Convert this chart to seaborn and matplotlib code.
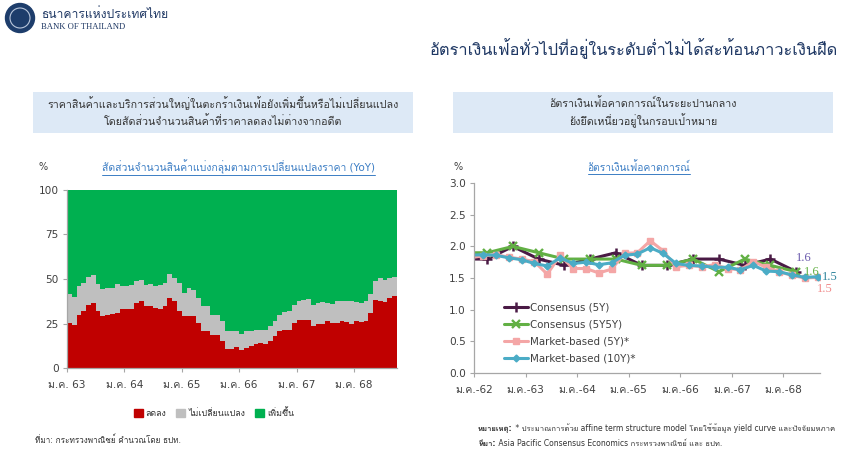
import numpy as np
import pandas as pd
import matplotlib
matplotlib.use("Agg")
import matplotlib.pyplot as plt
import matplotlib.patches as mpatches
from matplotlib.lines import Line2D
from matplotlib import font_manager as fm
from matplotlib.ft2font import FT2Font
import seaborn as sns

# ---- left chart: share of CPI items by price change (YoY), monthly Jan 2563 .. Sep 2568
price_month = list(range(69))
share_decrease = [
    25.2, 24.3, 29.5, 31.8, 35.5, 36.4, 32.0, 29.0, 30.0, 30.5, 31.0, 33.0,
    33.0, 33.0, 36.5, 37.4, 35.0, 35.0, 33.6, 33.0, 34.6, 39.3, 37.4, 32.3,
    29.3, 29.3, 29.0, 25.2, 21.0, 21.0, 18.7, 18.7, 15.0, 10.7, 10.7, 11.8,
    10.3, 11.2, 12.1, 13.5, 14.0, 13.5, 15.0, 17.8, 20.6, 21.1, 21.5, 25.2,
    27.1, 27.1, 26.7, 23.4, 24.9, 24.9, 26.2, 25.2, 25.2, 26.2, 25.6, 24.9,
    26.5, 25.6, 26.2, 30.8, 38.3, 37.9, 37.0, 39.3, 40.2,
]
share_unchanged = [
    16.5, 15.7, 16.3, 15.9, 15.5, 15.9, 15.3, 15.3, 14.9, 14.4, 16.0, 13.0,
    13.0, 13.7, 12.1, 12.1, 11.7, 12.3, 12.2, 13.7, 13.1, 13.6, 13.1, 15.4,
    13.1, 15.6, 14.6, 14.1, 14.0, 14.0, 11.3, 10.8, 11.2, 10.3, 10.3, 8.8,
    9.0, 9.4, 8.5, 7.6, 7.1, 7.6, 8.4, 8.4, 9.4, 10.1, 10.3, 10.3,
    10.8, 11.2, 12.0, 12.1, 11.5, 11.9, 10.2, 10.9, 12.2, 11.6, 11.8, 12.5,
    10.3, 10.8, 11.2, 10.7, 10.3, 12.6, 12.5, 11.2, 11.2,
]
share_increase = [
    58.3, 60.0, 54.2, 52.3, 49.0, 47.7, 52.7, 55.7, 55.1, 55.1, 53.0, 54.0,
    54.0, 53.3, 51.4, 50.5, 53.3, 52.7, 54.2, 53.3, 52.3, 47.1, 49.5, 52.3,
    57.6, 55.1, 56.4, 60.7, 65.0, 65.0, 70.0, 70.5, 73.8, 79.0, 79.0, 79.4,
    80.7, 79.4, 79.4, 78.9, 78.9, 78.9, 76.6, 73.8, 70.0, 68.8, 68.2, 64.5,
    62.1, 61.7, 61.3, 64.5, 63.6, 63.2, 63.6, 63.9, 62.6, 62.2, 62.6, 62.6,
    63.2, 63.6, 62.6, 58.5, 51.4, 49.5, 50.5, 49.5, 48.6,
]
price_groups = ["ลดลง", "ไม่เปลี่ยนแปลง", "เพิ่มขึ้น"]
price_ticks = [0, 12, 24, 36, 48, 60]
price_ticklabels = ["ม.ค. 63", "ม.ค. 64", "ม.ค. 65", "ม.ค. 66", "ม.ค. 67", "ม.ค. 68"]

# ---- right chart: inflation expectations, months counted from Jan 2562
consensus_month = [-3, 3, 9, 15, 21, 27, 33, 39, 45, 51, 57, 63, 69, 75]
consensus_5y = [1.8, 1.8, 2.0, 1.8, 1.7, 1.8, 1.9, 1.7, 1.7, 1.8, 1.8, 1.7, 1.8, 1.6]
consensus_5y5y = [1.9, 1.9, 2.0, 1.9, 1.8, 1.8, 1.8, 1.7, 1.7, 1.8, 1.6, 1.8, 1.7, 1.6]
market_month = [-1, 2, 5, 8, 11, 14, 17, 20, 23, 26, 29, 32, 35, 38,
                41, 44, 47, 50, 53, 56, 59, 62, 65, 68, 71, 74, 77, 80]
market_5y = [1.82, 1.85, 1.87, 1.83, 1.80, 1.76, 1.56, 1.86, 1.65, 1.65, 1.58, 1.64, 1.89, 1.90,
             2.09, 1.93, 1.68, 1.70, 1.68, 1.71, 1.65, 1.63, 1.76, 1.67, 1.60, 1.54, 1.50, 1.51]
market_10y = [1.86, 1.87, 1.86, 1.82, 1.79, 1.73, 1.69, 1.82, 1.73, 1.75, 1.71, 1.74, 1.86, 1.88,
              1.98, 1.89, 1.73, 1.70, 1.69, 1.67, 1.67, 1.63, 1.70, 1.61, 1.60, 1.55, 1.51, 1.52]
expect_ticks = [0, 12, 24, 36, 48, 60, 72]
expect_ticklabels = ["ม.ค.-62", "ม.ค.-63", "ม.ค.-64", "ม.ค.-65", "ม.ค.-66", "ม.ค.-67", "ม.ค.-68"]


def find_thai_font():
    for f in fm.fontManager.ttflist:
        try:
            if 0x0E01 in FT2Font(f.fname).get_charmap():
                return f.name
        except Exception:
            continue
    return None


sns.set_theme(style="white")
thai = find_thai_font()
plt.rcParams["font.family"] = ["DejaVu Sans"] + ([thai] if thai else [])

W, H = 860, 457
NAVY = "#1f3864"
TXT = "#404040"
AXIS = "#a6a6a6"
SERIF = ["Liberation Serif", "DejaVu Serif"]


def fx(px):
    return px / W


def fy(py):
    return 1 - py / H


fig = plt.figure(figsize=(W / 100, H / 100), dpi=100)
fig.patch.set_facecolor("white")

# logo + header
fig.add_artist(mpatches.Ellipse((fx(20), fy(18)), 29 / W, 29 / H, color="#1d3d6b"))
fig.add_artist(mpatches.Ellipse((fx(20), fy(18)), 20 / W, 20 / H, facecolor="none",
                                edgecolor="#b9c7dc", linewidth=0.8))
fig.text(fx(41), fy(14), "ธนาคารแห่งประเทศไทย", fontsize=8.7, color=NAVY, va="center")
fig.text(fx(41), fy(27), "BANK OF THAILAND", fontsize=6.2, color=NAVY, va="center",
         family=SERIF)
fig.text(fx(838), fy(49), "อัตราเงินเฟ้อทั่วไปที่อยู่ในระดับต่ำไม่ได้สะท้อนภาวะเงินฝืด",
         fontsize=11.8, color=NAVY, ha="right", va="center")

# section boxes
for x0, lines, cx in [
    (33, ["ราคาสินค้าและบริการส่วนใหญ่ในตะกร้าเงินเฟ้อยังเพิ่มขึ้นหรือไม่เปลี่ยนแปลง",
          "โดยสัดส่วนจำนวนสินค้าที่ราคาลดลงไม่ต่างจากอดีต"], 223),
    (453, ["อัตราเงินเฟ้อคาดการณ์ในระยะปานกลาง", "ยังยึดเหนี่ยวอยู่ในกรอบเป้าหมาย"], 643),
]:
    fig.add_artist(mpatches.Rectangle((fx(x0), fy(133)), 380 / W, 41 / H,
                                      facecolor="#dde9f6", edgecolor="none"))
    fig.text(fx(cx), fy(103), lines[0], fontsize=7.7, color="#333333", ha="center", va="center")
    fig.text(fx(cx), fy(121), lines[1], fontsize=7.7, color="#333333", ha="center", va="center")

# ---- left chart
price_df = pd.DataFrame({
    "month": price_month * 3,
    "share": share_decrease + share_unchanged + share_increase,
    "group": [price_groups[0]] * 69 + [price_groups[1]] * 69 + [price_groups[2]] * 69,
})
price_colors = {"ลดลง": "#c00000", "ไม่เปลี่ยนแปลง": "#bfbfbf", "เพิ่มขึ้น": "#00b050"}

ax1 = fig.add_axes([fx(67), fy(368), 330 / W, 178 / H])
sns.histplot(data=price_df, x="month", weights="share", hue="group",
             hue_order=price_groups[::-1], multiple="stack", binwidth=1, binrange=(0, 69),
             element="step", palette=price_colors, alpha=1, linewidth=0,
             legend=False, ax=ax1)
ax1.set_xlim(0, 69)
ax1.set_ylim(0, 100)
ax1.set_yticks([0, 25, 50, 75, 100])
ax1.set_xticks(price_ticks)
ax1.set_xticklabels(price_ticklabels)
ax1.set_xlabel("")
ax1.set_ylabel("")

# ---- right chart
ax2 = fig.add_axes([fx(474.3), fy(372.7), 345.5 / W, 189.4 / H])
series = [
    ("Consensus (5Y)", consensus_month, consensus_5y, "#4a1a45", "+", 7.5, 1.8, "#6a5aad", (8, 14)),
    ("Consensus (5Y5Y)", consensus_month, consensus_5y5y, "#62b044", "x", 5.5, 1.7, "#62b044", (16, 0)),
    ("Market-based (5Y)*", market_month, market_5y, "#f4a6a6", "s", 4, 1.0, "#f08a8a", (7, -12)),
    ("Market-based (10Y)*", market_month, market_10y, "#4bacc6", "D", 3.5, 1.0, "#31859c", (12, 0)),
]
for name, xs, ys, col, mk, ms, mew, lab_col, off in series:
    sns.lineplot(x=xs, y=ys, ax=ax2, color=col, marker=mk, markersize=ms,
                 markeredgewidth=mew, markeredgecolor=col, linewidth=2.2,
                 label=name, errorbar=None)
    ax2.annotate(f"{ys[-1]:.1f}", (xs[-1], ys[-1]), xytext=off, textcoords="offset pixels",
                 ha="center", va="center", fontsize=9, color=lab_col,
                 family=SERIF, annotation_clip=False)
ax2.set_xlim(0, 80.5)
ax2.set_ylim(0, 3.0)
ax2.set_yticks(np.arange(0, 3.01, 0.5))
ax2.set_yticklabels([f"{v:.1f}" for v in np.arange(0, 3.01, 0.5)])
ax2.set_xticks(expect_ticks)
ax2.set_xticklabels(expect_ticklabels)
leg = ax2.legend(loc="lower left", bbox_to_anchor=(0.075, 0.025), frameon=False, fontsize=7.4,
                 handlelength=2.3, labelspacing=0.68, handletextpad=0.15, borderaxespad=0)
for t in leg.get_texts():
    t.set_color(TXT)

for ax in (ax1, ax2):
    for s in ("top", "right"):
        ax.spines[s].set_visible(False)
    for s in ("left", "bottom"):
        ax.spines[s].set_color(AXIS)
        ax.spines[s].set_linewidth(0.9)
    ax.tick_params(axis="both", labelsize=7.6, colors=TXT, length=3, width=0.8, direction="out",
                   left=True, bottom=True)
    ax.tick_params(axis="both", color=AXIS)
    ax.tick_params(axis="x", pad=6)
    ax.tick_params(axis="y", pad=3)
    ax.set_facecolor("white")
    ax.grid(False)

# chart titles and units
fig.text(fx(43), fy(167), "%", fontsize=7, color=TXT, ha="center", va="center")
fig.text(fx(458), fy(167), "%", fontsize=7, color=TXT, ha="center", va="center")
t1 = fig.text(fx(238), fy(167), "สัดส่วนจำนวนสินค้าแบ่งกลุ่มตามการเปลี่ยนแปลงราคา (YoY)",
              fontsize=7.5, color="#3b7dc4", ha="center", va="center")
t2 = fig.text(fx(639), fy(167), "อัตราเงินเฟ้อคาดการณ์",
              fontsize=7.4, color="#3b7dc4", ha="center", va="center")

# legend for left chart
handles = [mpatches.Patch(color=price_colors[g], label=g) for g in price_groups]
lg = fig.legend(handles=handles, loc="center", bbox_to_anchor=(fx(214), fy(413)), ncol=3,
                frameon=False, fontsize=6.4, handlelength=1.0, handleheight=1.0,
                handletextpad=0.35, columnspacing=1.1)
for t in lg.get_texts():
    t.set_color("#333333")

# footnotes
fig.text(fx(35), fy(440), "ที่มา: กระทรวงพาณิชย์ คำนวณโดย ธปท.", fontsize=5.9, color="#333333",
         va="center")
n1 = fig.text(fx(478), fy(428), "หมายเหตุ:", fontsize=5.5, color="#333333", va="center",
              fontweight="bold")
n2 = fig.text(fx(478), fy(443), "ที่มา:", fontsize=5.5, color="#333333", va="center",
              fontweight="bold")

fig.canvas.draw()
r = fig.canvas.get_renderer()
for t in (t1, t2):
    bb = t.get_window_extent(r)
    y = bb.y0 - 1
    fig.add_artist(Line2D([bb.x0 / W, bb.x1 / W], [y / H, y / H], color="#3b7dc4", linewidth=0.7))
for t, rest in [(n1, " * ประมาณการด้วย affine term structure model โดยใช้ข้อมูล yield curve และปัจจัยมหภาค"),
                (n2, " Asia Pacific Consensus Economics กระทรวงพาณิชย์ และ ธปท.")]:
    bb = t.get_window_extent(r)
    fig.text(bb.x1 / W, t.get_position()[1], rest, fontsize=5.5, color="#333333", va="center")

fig.savefig("out.png", dpi=100, facecolor="white")
